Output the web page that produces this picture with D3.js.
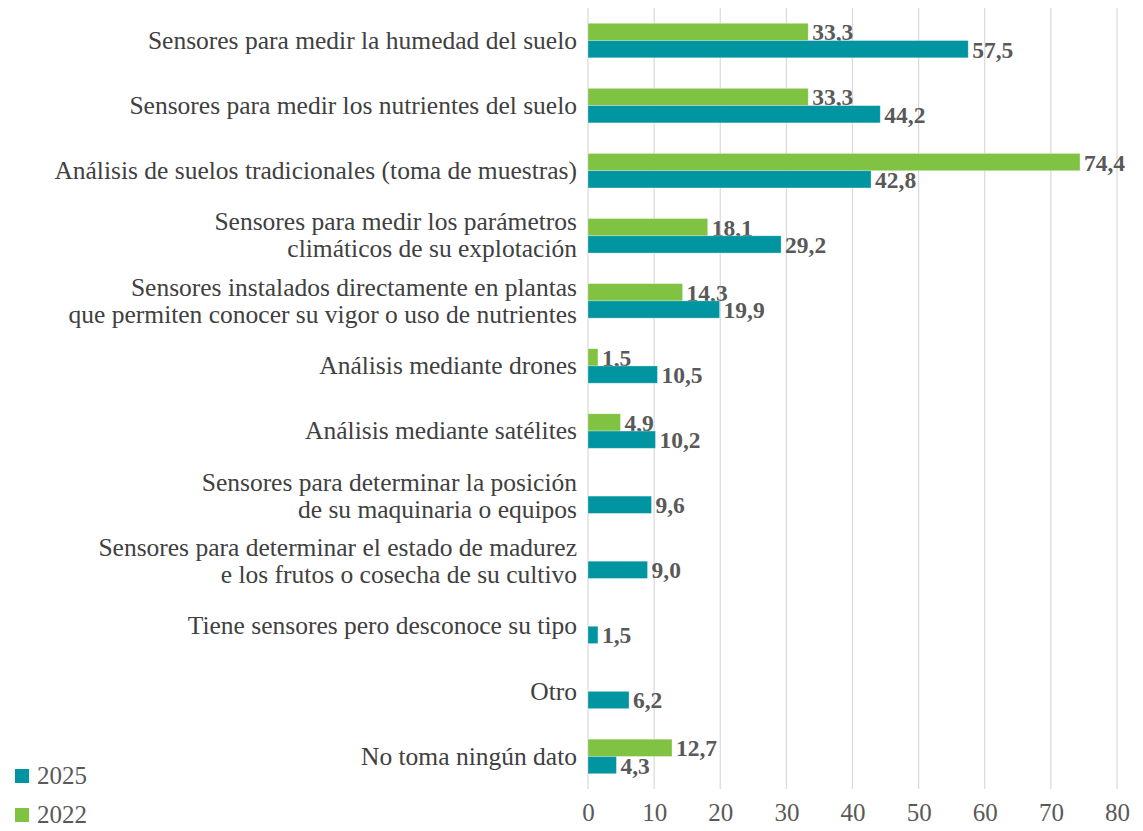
<!DOCTYPE html>
<html>
<head>
<meta charset="utf-8">
<script src="https://cdn.jsdelivr.net/npm/d3@7"></script>
<style>
  body { margin: 0; background: #fff; }
</style>
</head>
<body>
<svg id="chart" width="1143" height="831"></svg>
<script>
const categories = [
  ['Sensores para medir la humedad del suelo'],
  ['Sensores para medir los nutrientes del suelo'],
  ['Análisis de suelos tradicionales (toma de muestras)'],
  ['Sensores para medir los parámetros', 'climáticos de su explotación'],
  ['Sensores instalados directamente en plantas', 'que permiten conocer su vigor o uso de nutrientes'],
  ['Análisis mediante drones'],
  ['Análisis mediante satélites'],
  ['Sensores para determinar la posición', 'de su maquinaria o equipos'],
  ['Sensores para determinar el estado de madurez', 'e los frutos o cosecha de su cultivo'],
  ['Tiene sensores pero desconoce su tipo'],
  ['Otro'],
  ['No toma ningún dato']
];
const values2022 = [33.3, 33.3, 74.4, 18.1, 14.3, 1.5, 4.9, null, null, null, null, 12.7];
const values2025 = [57.5, 44.2, 42.8, 29.2, 19.9, 10.5, 10.2, 9.6, 9.0, 1.5, 6.2, 4.3];
const xTicks = [0, 10, 20, 30, 40, 50, 60, 70, 80];
const seriesNames = ['2022', '2025'];
const colors = {'2022': '#80c241', '2025': '#0095a0'};

const FONT = "'Liberation Serif', 'Times New Roman', Times, serif";

const svg = d3.select('#chart');
const margin = {top: 8, right: 26, bottom: 42, left: 588};
const W = 1143, H = 831;
const width = W - margin.left - margin.right;
const height = H - margin.top - margin.bottom;
const g = svg.append('g').attr('transform', `translate(${margin.left},${margin.top})`);

const rows = categories.map((c, i) => ({i, label: c, '2022': values2022[i], '2025': values2025[i]}));

const x = d3.scaleLinear().domain([0, 80]).range([0, width]);
const y = d3.scaleBand().domain(d3.range(categories.length)).range([0, height]).paddingInner(0.47).paddingOuter(0.235);
const ys = d3.scaleBand().domain(seriesNames).range([0, y.bandwidth()]);

// gridlines
g.selectAll('line.grid').data(xTicks).join('line')
  .attr('class', 'grid')
  .attr('x1', d => x(d)).attr('x2', d => x(d))
  .attr('y1', 0).attr('y2', height)
  .attr('stroke', '#d9d9d9').attr('stroke-width', 1.2);

// x axis labels
const ax = g.append('g').attr('transform', `translate(0,${height})`)
  .call(d3.axisBottom(x).tickValues(xTicks).tickSize(0).tickPadding(14));
ax.select('.domain').remove();
ax.selectAll('text').style('font-family', FONT).style('font-size', '25px').attr('fill', '#595959');

// bars
const grp = g.selectAll('g.cat').data(rows).join('g')
  .attr('class', 'cat')
  .attr('transform', d => `translate(0,${y(d.i)})`);

seriesNames.forEach(s => {
  const sub = grp.filter(d => d[s] != null);
  sub.append('rect')
    .attr('x', x(0))
    .attr('y', ys(s))
    .attr('width', d => x(d[s]) - x(0))
    .attr('height', ys.bandwidth())
    .attr('fill', colors[s])
    .attr('stroke', '#ffffff').attr('stroke-opacity', 0.35).attr('stroke-width', 0.8);
  sub.append('text')
    .attr('x', d => x(d[s]) + 4)
    .attr('y', ys(s) + ys.bandwidth() / 2)
    .attr('dy', '0.36em')
    .style('font-family', FONT)
    .style('font-size', '23.5px')
    .attr('font-weight', 'bold')
    .attr('fill', '#595959')
    .text(d => d3.format('.1f')(d[s]).replace('.', ','));
});

// category labels
const lineH = 27;
grp.append('text')
  .attr('text-anchor', 'end')
  .style('font-family', FONT)
  .style('font-size', '25.5px')
  .attr('fill', '#404040')
  .each(function(d) {
    const t = d3.select(this);
    const n = d.label.length;
    d.label.forEach((line, k) => {
      t.append('tspan')
        .attr('x', -11)
        .attr('y', y.bandwidth() / 2 + (k - (n - 1) / 2) * lineH)
        .attr('dy', '0.32em')
        .text(line);
    });
  });

// legend
const legend = svg.append('g');
const legendItems = [{name: '2025', y: 769}, {name: '2022', y: 808}];
legend.selectAll('rect').data(legendItems).join('rect')
  .attr('x', 15).attr('y', d => d.y).attr('width', 14).attr('height', 14)
  .attr('fill', d => colors[d.name]);
legend.selectAll('text').data(legendItems).join('text')
  .attr('x', 37).attr('y', d => d.y + 7).attr('dy', '0.3em')
  .style('font-family', FONT)
  .style('font-size', '25px').attr('fill', '#595959')
  .text(d => d.name);
</script>
</body>
</html>
